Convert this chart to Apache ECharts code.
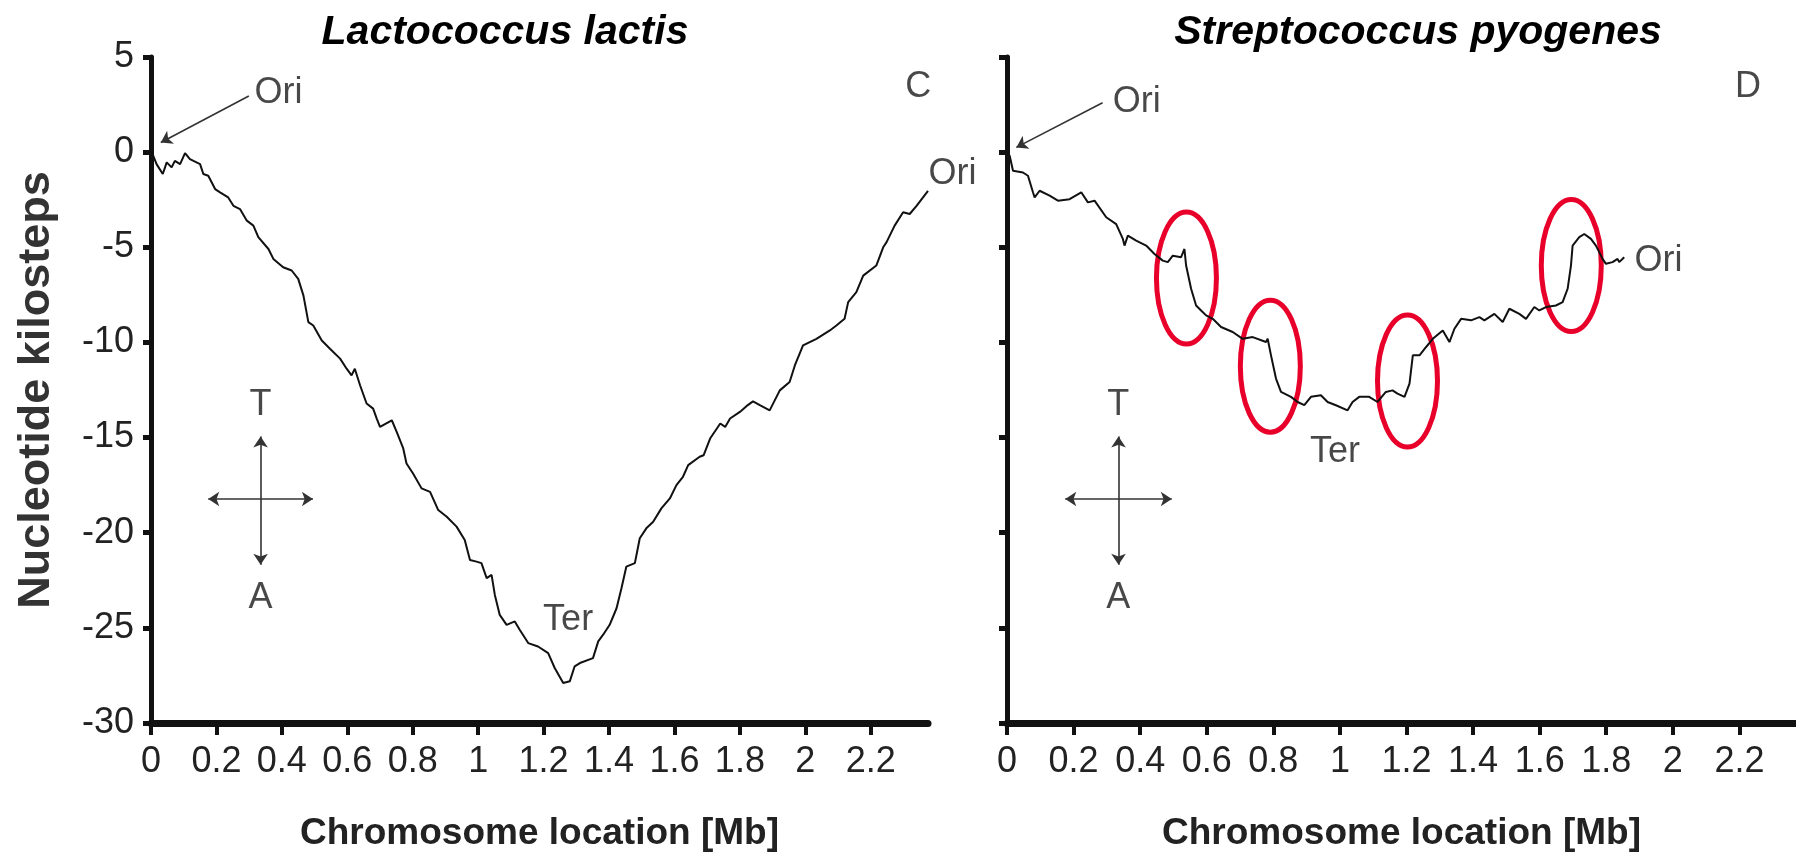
<!DOCTYPE html>
<html>
<head>
<meta charset="utf-8">
<script src="https://cdn.jsdelivr.net/npm/echarts@6.0.0/dist/echarts.min.js"></script>
<style>
html,body{margin:0;padding:0;background:#fff;}
#chart{width:1796px;height:860px;}
</style>
</head>
<body>
<div id="chart"></div>
<script>
// ---- Data ----
const panelTitles = ['Lactococcus lactis', 'Streptococcus pyogenes'];
const xAxisTitle = 'Chromosome location [Mb]';
const yAxisTitle = 'Nucleotide kilosteps';
const xTicks = [0, 0.2, 0.4, 0.6, 0.8, 1, 1.2, 1.4, 1.6, 1.8, 2, 2.2];
const yTicks = [5, 0, -5, -10, -15, -20, -25, -30];

// Lactococcus lactis skew walk: position (Mb) and cumulative skew (kilosteps)
const lactisPos = [0, 0.007, 0.017, 0.036, 0.048, 0.063, 0.073, 0.089, 0.104, 0.119, 0.15, 0.16, 0.175, 0.196, 0.211, 0.236, 0.252, 0.272, 0.293, 0.313, 0.328, 0.359, 0.374, 0.404, 0.43, 0.45, 0.466, 0.481, 0.496, 0.522, 0.547, 0.578, 0.598, 0.613, 0.623, 0.639, 0.659, 0.679, 0.69, 0.70, 0.736, 0.751, 0.771, 0.781, 0.801, 0.827, 0.853, 0.878, 0.904, 0.934, 0.959, 0.975, 0.995, 1.01, 1.026, 1.041, 1.051, 1.066, 1.087, 1.112, 1.127, 1.153, 1.183, 1.214, 1.234, 1.26, 1.28, 1.295, 1.311, 1.351, 1.367, 1.382, 1.402, 1.423, 1.438, 1.453, 1.479, 1.494, 1.514, 1.535, 1.56, 1.586, 1.606, 1.626, 1.642, 1.677, 1.689, 1.709, 1.74, 1.755, 1.77, 1.8, 1.82, 1.84, 1.861, 1.891, 1.922, 1.952, 1.968, 1.993, 2.034, 2.075, 2.095, 2.12, 2.131, 2.156, 2.177, 2.217, 2.238, 2.248, 2.273, 2.299, 2.319, 2.34, 2.375];
const lactisSkew = [0, -0.19, -0.63, -1.15, -0.54, -0.8, -0.46, -0.63, -0.05, -0.37, -0.63, -1.15, -1.24, -1.94, -2.11, -2.38, -2.82, -2.99, -3.6, -3.86, -4.47, -5.09, -5.61, -6.05, -6.22, -6.66, -7.54, -8.93, -9.11, -9.9, -10.33, -10.85, -11.38, -11.73, -11.38, -12.25, -13.21, -13.48, -14.0, -14.44, -14.09, -14.7, -15.57, -16.36, -16.89, -17.67, -17.85, -18.81, -19.16, -19.68, -20.38, -21.43, -21.52, -21.6, -22.39, -22.22, -23.27, -24.32, -24.84, -24.66, -25.1, -25.8, -25.98, -26.33, -27.11, -27.9, -27.81, -27.02, -26.85, -26.59, -25.71, -25.36, -24.84, -23.97, -22.92, -21.78, -21.6, -20.29, -19.77, -19.42, -18.72, -18.2, -17.5, -17.06, -16.45, -16.01, -15.93, -15.05, -14.26, -14.44, -14.0, -13.65, -13.35, -13.1, -13.3, -13.57, -12.52, -12.08, -11.21, -10.16, -9.81, -9.37, -9.11, -8.76, -7.88, -7.36, -6.49, -5.96, -5.0, -4.74, -3.86, -3.16, -3.25, -2.82, -2.03];

// Streptococcus pyogenes skew walk
const pyogenesPos = [0, 0.008, 0.018, 0.048, 0.063, 0.078, 0.083, 0.098, 0.128, 0.153, 0.188, 0.223, 0.243, 0.263, 0.298, 0.328, 0.348, 0.353, 0.363, 0.388, 0.418, 0.443, 0.468, 0.483, 0.498, 0.523, 0.533, 0.538, 0.553, 0.568, 0.583, 0.598, 0.618, 0.643, 0.678, 0.708, 0.738, 0.778, 0.783, 0.793, 0.808, 0.823, 0.853, 0.873, 0.893, 0.913, 0.943, 0.963, 0.988, 1.023, 1.038, 1.058, 1.088, 1.113, 1.138, 1.158, 1.173, 1.194, 1.209, 1.219, 1.239, 1.259, 1.279, 1.309, 1.329, 1.344, 1.364, 1.394, 1.419, 1.434, 1.464, 1.489, 1.509, 1.539, 1.559, 1.584, 1.599, 1.619, 1.649, 1.669, 1.684, 1.694, 1.699, 1.719, 1.734, 1.754, 1.769, 1.789, 1.799, 1.819, 1.834, 1.839, 1.854];
const pyogenesSkew = [0, -0.19, -0.98, -1.07, -1.24, -2.11, -2.38, -2.03, -2.29, -2.55, -2.47, -2.11, -2.64, -2.55, -3.42, -3.78, -4.56, -4.91, -4.39, -4.65, -4.91, -5.35, -5.7, -5.78, -5.44, -5.52, -5.09, -5.96, -7.18, -8.06, -8.32, -8.58, -8.76, -9.19, -9.45, -9.81, -9.72, -9.98, -9.81, -10.68, -11.9, -12.6, -12.86, -13.13, -13.3, -12.86, -12.78, -13.13, -13.3, -13.57, -13.13, -12.86, -12.86, -13.13, -12.6, -12.52, -12.69, -12.86, -12.17, -10.68, -10.68, -10.24, -9.81, -9.37, -9.98, -9.28, -8.76, -8.84, -8.67, -8.84, -8.5, -8.93, -8.23, -8.5, -8.76, -8.14, -8.32, -8.14, -8.06, -7.88, -7.18, -5.96, -4.91, -4.47, -4.3, -4.56, -4.91, -5.61, -5.87, -5.78, -5.61, -5.78, -5.52];

// Annotation texts (data coordinates: Mb, kilosteps)
const lactisNotes = [
  {name: 'Ori', value: [0.39, 3.12]},
  {name: 'C', value: [2.345, 3.41]},
  {name: 'Ori', value: [2.45, -1.15]},
  {name: 'Ter', value: [1.275, -24.58]},
  {name: 'T', value: [0.335, -13.27]},
  {name: 'A', value: [0.335, -23.44]}
];
const pyogenesNotes = [
  {name: 'Ori', value: [0.39, 2.62]},
  {name: 'D', value: [2.226, 3.43]},
  {name: 'Ori', value: [1.957, -5.72]},
  {name: 'Ter', value: [0.985, -15.75]},
  {name: 'T', value: [0.334, -13.27]},
  {name: 'A', value: [0.334, -23.44]}
];
// Ori pointer arrows: [tail, head]
const lactisOriArrow = [[0.299, 2.95], [0.03, 0.51]];
const pyogenesOriArrow = [[0.287, 2.6], [0.028, 0.25]];
// T/A cross arrows: horizontal and vertical segments
const crossH = [[0.175, -18.23], [0.495, -18.23]];
const crossV = [[0.335, -14.95], [0.335, -21.69]];
// Highlighted jumps (ellipse centres) in the S. pyogenes walk
const jumpCentres = [[0.539, -6.62], [0.791, -11.25], [1.203, -12.03], [1.695, -5.96]];

// ---- Chart ----
const zip = (a, b) => a.map((v, i) => [v, b[i]]);
const SANS = "'Liberation Sans', Arial, sans-serif";
const INK = '#111';
const TXT = '#222';

function xAxisCfg(idx, max) {
  return {
    gridIndex: idx, type: 'value', min: 0, max: max,
    axisLine: {show: true, onZero: false, lineStyle: {color: INK, width: 7}},
    axisTick: {show: true, customValues: xTicks, length: 12, lineStyle: {color: INK, width: 4}},
    axisLabel: {customValues: xTicks, margin: 21, fontSize: 36, color: TXT, fontFamily: SANS,
      formatter: v => String(+(+v).toFixed(1))},
    splitLine: {show: false},
    name: xAxisTitle, nameLocation: 'middle', nameGap: 92,
    nameTextStyle: {fontSize: 37, fontWeight: 'bold', color: TXT, fontFamily: SANS}
  };
}
function yAxisCfg(idx, labels) {
  return {
    gridIndex: idx, type: 'value', min: yTicks[yTicks.length - 1], max: yTicks[0], interval: 5,
    axisLine: {show: true, onZero: false, lineStyle: {color: INK, width: 5}},
    axisTick: {show: true, length: 8, lineStyle: {color: INK, width: 5}},
    axisLabel: {show: labels, margin: 17, fontSize: 36, color: TXT, fontFamily: SANS},
    splitLine: {show: false},
    name: labels ? yAxisTitle : '', nameLocation: 'middle', nameGap: 92, nameRotate: 90,
    nameTextStyle: {fontSize: 45, fontWeight: 'bold', color: '#333', fontFamily: SANS}
  };
}
function arrowLines(ori) {
  return {
    silent: true, animation: false, symbolSize: 11,
    label: {show: false},
    lineStyle: {color: '#333', width: 1.6, type: 'solid'},
    emphasis: {disabled: true},
    data: [
      [{coord: ori[0], symbol: 'none'}, {coord: ori[1], symbol: 'arrow'}],
      [{coord: crossH[0], symbol: 'arrow'}, {coord: crossH[1], symbol: 'arrow'}],
      [{coord: crossV[0], symbol: 'arrow'}, {coord: crossV[1], symbol: 'arrow'}]
    ]
  };
}
function noteSeries(idx, notes) {
  return {
    type: 'scatter', xAxisIndex: idx, yAxisIndex: idx, data: notes,
    symbolSize: 1, itemStyle: {color: 'rgba(0,0,0,0)'}, silent: true, clip: false,
    label: {show: true, position: 'inside', formatter: '{b}', fontSize: 36, color: '#1a1a1a',
      textBorderWidth: 0, fontFamily: SANS}
  };
}

const chart = echarts.init(document.getElementById('chart'), null, {renderer: 'canvas'});
chart.setOption({
  backgroundColor: '#fff',
  animation: false,
  title: [
    {text: panelTitles[0], left: 500, top: 7, textAlign: 'center',
     textStyle: {fontSize: 41, fontWeight: 'bold', fontStyle: 'italic', color: '#000', fontFamily: SANS}},
    {text: panelTitles[1], left: 1413, top: 7, textAlign: 'center',
     textStyle: {fontSize: 41, fontWeight: 'bold', fontStyle: 'italic', color: '#000', fontFamily: SANS}}
  ],
  grid: [
    {left: 151, top: 57, width: 777, height: 666},
    {left: 1007, top: 57, width: 789, height: 666}
  ],
  xAxis: [xAxisCfg(0, 2.375), xAxisCfg(1, 2.37)],
  yAxis: [yAxisCfg(0, true), yAxisCfg(1, false)],
  series: [
    {type: 'line', xAxisIndex: 0, yAxisIndex: 0, data: zip(lactisPos, lactisSkew),
     showSymbol: false, symbol: 'none', lineStyle: {color: INK, width: 2}, silent: true,
     markLine: arrowLines(lactisOriArrow)},
    {type: 'line', xAxisIndex: 1, yAxisIndex: 1, data: zip(pyogenesPos, pyogenesSkew),
     showSymbol: false, symbol: 'none', lineStyle: {color: INK, width: 2}, silent: true,
     markLine: arrowLines(pyogenesOriArrow)},
    noteSeries(0, lactisNotes),
    noteSeries(1, pyogenesNotes),
    {type: 'custom', xAxisIndex: 1, yAxisIndex: 1, data: jumpCentres, silent: true, clip: false,
     renderItem: (params, api) => {
       const p = api.coord([api.value(0), api.value(1)]);
       return {type: 'ellipse', shape: {cx: p[0], cy: p[1], rx: 30, ry: 66},
               style: {fill: 'none', stroke: '#e8002a', lineWidth: 5}};
     }}
  ]
});
</script>
</body>
</html>
